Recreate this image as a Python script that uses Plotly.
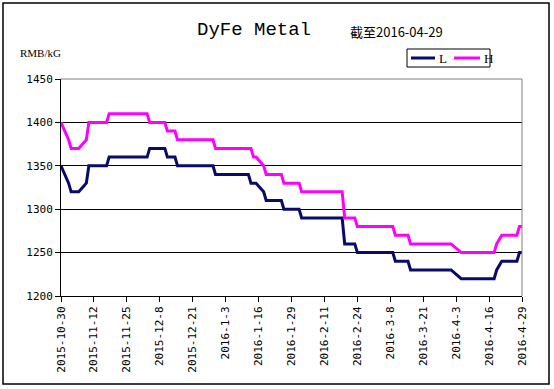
import plotly.graph_objects as go

# ---- data ----
dates_L = ["2015-10-30", "2015-11-02", "2015-11-03", "2015-11-06", "2015-11-09", "2015-11-10",
           "2015-11-17", "2015-11-18", "2015-12-03", "2015-12-04", "2015-12-10", "2015-12-11",
           "2015-12-14", "2015-12-15", "2015-12-29", "2015-12-30", "2016-01-12", "2016-01-13",
           "2016-01-15", "2016-01-18", "2016-01-19", "2016-01-25", "2016-01-26", "2016-02-01",
           "2016-02-02", "2016-02-18", "2016-02-19", "2016-02-23", "2016-02-24", "2016-03-09",
           "2016-03-10", "2016-03-15", "2016-03-16", "2016-04-01", "2016-04-05", "2016-04-18",
           "2016-04-19", "2016-04-21", "2016-04-27", "2016-04-28", "2016-04-29"]
L_vals = [1350, 1330, 1320, 1320, 1330, 1350,
          1350, 1360, 1360, 1370, 1370, 1360,
          1360, 1350, 1350, 1340, 1340, 1330,
          1330, 1320, 1310, 1310, 1300, 1300,
          1290, 1290, 1260, 1260, 1250, 1250,
          1240, 1240, 1230, 1230, 1220, 1220,
          1230, 1240, 1240, 1250, 1250]

dates_H = ["2015-10-30", "2015-11-02", "2015-11-03", "2015-11-06", "2015-11-09", "2015-11-10",
           "2015-11-17", "2015-11-18", "2015-12-03", "2015-12-04", "2015-12-10", "2015-12-11",
           "2015-12-14", "2015-12-15", "2015-12-29", "2015-12-30", "2016-01-13", "2016-01-14",
           "2016-01-15", "2016-01-18", "2016-01-19", "2016-01-25", "2016-01-26", "2016-02-01",
           "2016-02-02", "2016-02-18", "2016-02-19", "2016-02-23", "2016-02-24", "2016-03-09",
           "2016-03-10", "2016-03-15", "2016-03-16", "2016-04-01", "2016-04-05", "2016-04-18",
           "2016-04-19", "2016-04-21", "2016-04-27", "2016-04-28", "2016-04-29"]
H_vals = [1400, 1380, 1370, 1370, 1380, 1400,
          1400, 1410, 1410, 1400, 1400, 1390,
          1390, 1380, 1380, 1370, 1370, 1360,
          1360, 1350, 1340, 1340, 1330, 1330,
          1320, 1320, 1290, 1290, 1280, 1280,
          1270, 1270, 1260, 1260, 1250, 1250,
          1260, 1270, 1270, 1280, 1280]

tick_dates = ["2015-10-30", "2015-11-12", "2015-11-25", "2015-12-08", "2015-12-21",
              "2016-01-03", "2016-01-16", "2016-01-29", "2016-02-11", "2016-02-24",
              "2016-03-08", "2016-03-21", "2016-04-03", "2016-04-16", "2016-04-29"]
tick_labels = ["2015-10-30", "2015-11-12", "2015-11-25", "2015-12-8", "2015-12-21",
               "2016-1-3", "2016-1-16", "2016-1-29", "2016-2-11", "2016-2-24",
               "2016-3-8", "2016-3-21", "2016-4-3", "2016-4-16", "2016-4-29"]

y_ticks = [1200, 1250, 1300, 1350, 1400, 1450]

series_names = ["L", "H"]
series_colors = ["#0a0a6b", "#ff00ff"]

title_text = "DyFe Metal"
subtitle_text = "截至2016-04-29"
unit_text = "RMB/kG"

# ---- figure ----
W, H = 554, 389
ml, mr, mt, mb = 61, 32, 79, 93
pw, ph = W - ml - mr, H - mt - mb

def px2x(p):
    return (p - ml) / pw

def py2y(p):
    return (H - mb - p) / ph

fig = go.Figure()
fig.add_trace(go.Scatter(x=dates_L, y=L_vals, mode="lines", name=series_names[0],
                         line=dict(color=series_colors[0], width=3)))
fig.add_trace(go.Scatter(x=dates_H, y=H_vals, mode="lines", name=series_names[1],
                         line=dict(color=series_colors[1], width=3)))

tick_font = dict(family="DejaVu Sans Mono", size=11, color="black")

fig.update_layout(
    width=W, height=H,
    margin=dict(l=ml, r=mr, t=mt, b=mb, autoexpand=False),
    paper_bgcolor="white", plot_bgcolor="white",
    font=dict(family="DejaVu Sans Mono", size=12, color="black"),
    showlegend=False,
    xaxis=dict(type="date", range=[tick_dates[0], tick_dates[-1]],
               tickmode="array", tickvals=tick_dates, ticktext=tick_labels,
               tickangle=-90, ticks="outside", ticklen=5, tickcolor="black",
               showline=True, linecolor="black", linewidth=1,
               showgrid=False, zeroline=False, tickfont=tick_font),
    yaxis=dict(range=[1200, 1450], tickmode="array", tickvals=y_ticks,
               ticks="outside", ticklen=5, tickcolor="black",
               showline=True, linecolor="black", linewidth=1,
               showgrid=True, gridcolor="black", gridwidth=1, zeroline=False,
               tickfont=tick_font),
)

# gray frame on the top/right of the plot area and the outer border
fig.add_shape(type="line", xref="paper", yref="paper", x0=0, x1=1, y0=1, y1=1,
              line=dict(color="#808080", width=1))
fig.add_shape(type="line", xref="paper", yref="paper", x0=1, x1=1, y0=0, y1=1,
              line=dict(color="#808080", width=1))
fig.add_shape(type="rect", xref="paper", yref="paper",
              x0=px2x(3), x1=px2x(549), y0=py2y(384), y1=py2y(3),
              line=dict(color="black", width=1.5), layer="below")

# legend box (drawn by hand to match the compact original legend)
leg_y = 58
fig.add_shape(type="rect", xref="paper", yref="paper",
              x0=px2x(407), x1=px2x(490), y0=py2y(67), y1=py2y(49),
              line=dict(color="black", width=1), fillcolor="white")
for (x0, x1, tx), name, col in zip([(411, 435, 437), (454, 480, 482)], series_names, series_colors):
    fig.add_shape(type="line", xref="paper", yref="paper",
                  x0=px2x(x0), x1=px2x(x1), y0=py2y(leg_y), y1=py2y(leg_y),
                  line=dict(color=col, width=3))
    fig.add_annotation(text=name, xref="paper", yref="paper",
                       x=px2x(tx), y=py2y(leg_y), xanchor="left", yanchor="middle",
                       showarrow=False, font=dict(family="Liberation Serif", size=13))

fig.add_annotation(text=title_text, xref="paper", yref="paper",
                   x=px2x(254), y=py2y(30), xanchor="center", yanchor="middle",
                   showarrow=False, font=dict(family="Liberation Mono", size=19))
fig.add_annotation(text=subtitle_text, xref="paper", yref="paper",
                   x=px2x(348), y=py2y(31), xanchor="left", yanchor="middle",
                   showarrow=False, font=dict(family="Noto Sans CJK SC", size=13))
fig.add_annotation(text=unit_text, xref="paper", yref="paper",
                   x=px2x(18), y=py2y(53), xanchor="left", yanchor="middle",
                   showarrow=False, font=dict(family="Liberation Serif", size=11))

fig.write_html("out.html", config={"displayModeBar": False},
               post_script="document.body.style.margin='0';")
